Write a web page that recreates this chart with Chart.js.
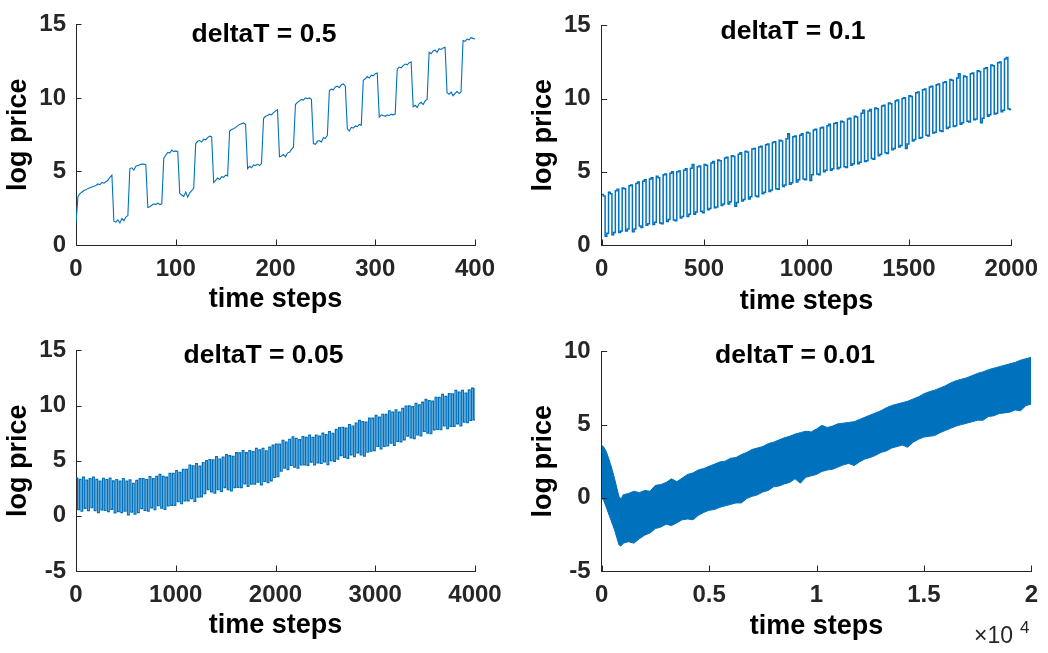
<!DOCTYPE html>
<html><head><meta charset="utf-8">
<script src="https://cdn.jsdelivr.net/npm/chart.js@4.4.1/dist/chart.umd.min.js"></script>
<style>
html,body{margin:0;padding:0;background:#fff;}
#wrap{position:relative;width:1048px;height:653px;overflow:hidden;background:#fff;}
canvas{position:absolute;}
</style></head><body>
<div id="wrap">
<canvas id="c1" width="524" height="326" style="left:0;top:0;width:524px;height:326px"></canvas>
<canvas id="c2" width="524" height="326" style="left:524px;top:0;width:524px;height:326px"></canvas>
<canvas id="c3" width="524" height="327" style="left:0;top:326px;width:524px;height:327px"></canvas>
<canvas id="c4" width="524" height="327" style="left:524px;top:326px;width:524px;height:327px"></canvas>
</div>
<script>
// ---------- data ----------
const titles = ['deltaT = 0.5', 'deltaT = 0.1', 'deltaT = 0.05', 'deltaT = 0.01'];
const xLabel = 'time steps';
const yLabel = 'log price';

// deltaT = 0.5 : sampled every 2 time steps (t = 0..400)
const sampleStep05 = 2;
const price05 = [
1.5,3.3,3.5,3.6,3.7,3.75,3.85,3.9,3.95,4.0,
4.05,4.15,4.1,4.25,4.2,4.3,4.4,4.6,4.75,1.6,
1.55,1.7,1.5,1.8,1.65,1.9,2.0,5.2,5.25,5.1,
5.35,5.4,5.45,5.5,5.5,5.45,2.55,2.6,2.7,2.8,
2.75,2.85,2.75,2.8,5.9,6.1,6.3,6.25,6.45,6.35,
6.4,6.35,3.5,3.4,3.3,3.6,3.25,3.55,3.7,3.85,
6.9,7.05,7.1,7.0,7.2,7.15,7.3,7.4,7.35,4.25,
4.4,4.55,4.45,4.65,4.6,4.75,4.7,7.75,7.85,7.9,
8.0,8.1,8.2,8.25,8.3,8.2,5.2,5.35,5.25,5.45,
5.4,5.5,5.4,5.55,8.6,8.75,8.8,8.9,8.85,9.0,
9.1,9.2,6.0,6.05,6.15,6.0,6.25,6.3,6.5,6.65,
9.55,9.7,9.8,9.9,9.85,10.0,9.95,10.0,9.9,6.9,
6.85,7.05,7.1,7.0,7.3,7.25,7.45,10.5,10.6,10.55,
10.75,10.8,10.7,10.9,10.95,10.8,7.9,7.75,8.0,7.95,
8.1,8.05,8.2,8.15,11.2,11.3,11.45,11.35,11.55,11.5,
11.65,11.7,8.7,8.85,8.8,8.75,8.85,8.8,8.9,8.85,
8.9,11.95,12.1,12.05,12.2,12.3,12.25,12.4,12.45,9.4,
9.5,9.35,9.6,9.7,9.55,9.8,9.9,13.1,13.0,13.2,
13.25,13.1,13.35,13.3,13.4,13.45,10.35,10.25,10.4,10.15,
10.3,10.45,10.3,10.4,13.9,13.85,14.0,13.95,14.1,14.05,
14.0
];

// deltaT = 0.1 : plateau levels, 4 samples per cycle (high, high, low, low), t = 0..2000
const sampleStep01 = 2000 / 240;
const price01 = [
3.45,3.35,0.6,0.8,  3.6,3.5,0.7,0.85,  3.7,3.8,0.85,0.95,  3.9,3.85,0.95,1.1,
4.05,4.1,0.9,1.1,  4.2,4.3,1.3,1.2,  4.35,4.45,1.35,1.45,  4.5,4.6,1.4,1.55,
4.7,4.6,1.5,1.45,  4.8,4.85,1.6,1.75,  4.9,5.0,1.7,1.65,  5.0,5.05,1.85,1.95,
5.1,5.2,1.95,2.1,  5.25,5.5,2.1,2.25,  5.35,5.4,2.3,2.2,  5.5,5.45,2.4,2.5,
5.6,5.7,2.55,2.6,  5.8,5.75,2.7,2.8,  5.95,6.0,2.8,2.95,  6.1,6.05,2.65,2.9,
6.2,6.3,3.0,3.1,  6.4,6.35,3.15,3.3,  6.55,6.6,3.35,3.3,  6.7,6.75,3.5,3.6,
6.85,6.9,3.65,3.75,  7.0,7.05,3.85,3.8,  7.15,7.1,4.0,4.1,  7.25,7.6,4.15,4.25,
7.4,7.45,4.3,4.45,  7.5,7.6,4.5,4.45,  7.7,7.65,4.4,4.8,  7.85,7.9,4.85,4.8,
8.0,8.05,5.0,5.1,  8.15,8.25,5.1,5.2,  8.3,8.35,5.2,5.3,  8.45,8.4,5.35,5.3,
8.6,8.65,5.45,5.55,  8.8,8.75,5.55,5.65,  9.0,9.2,5.7,5.75,  9.15,9.25,5.9,5.85,
9.35,9.3,6.1,6.2,  9.5,9.55,6.3,6.25,  9.7,9.65,6.5,6.6,  9.85,9.9,6.7,6.8,
10.0,10.05,6.6,6.9,  10.2,10.15,7.1,7.2,  10.4,10.45,7.3,7.35,  10.6,10.65,7.5,7.45,
10.8,10.85,7.65,7.7,  10.95,11.0,7.8,7.75,  11.1,11.15,7.95,8.05,  11.3,11.25,8.1,8.15,
11.4,11.7,8.25,8.35,  11.55,11.5,8.45,8.4,  11.7,11.75,8.55,8.6,  11.9,11.85,8.35,8.65,
12.05,12.1,8.8,8.9,  12.3,12.25,8.95,9.0,  12.45,12.5,9.1,9.2,  12.7,12.8,9.3,9.25,
9.3
];

// deltaT = 0.05 : plateau levels, 2 samples per cycle (high, low), t = 0..4000
const sampleStep005 = 4000 / 240;
const price005 = [
3.45,0.56, 3.3,0.42, 3.5,0.69, 3.24,0.48, 3.37,0.75, 3.51,0.47, 3.3,0.3, 3.15,0.55, 3.4,0.5, 3.29,0.38,
3.42,0.6, 3.16,0.27, 3.28,0.38, 3.15,0.3, 3.37,0.42, 3.15,0.09, 3.25,0.33, 2.95,0.16, 3.22,0.3, 3.37,0.65,
3.37,0.5, 3.28,0.42, 3.55,0.72, 3.37,0.57, 3.57,0.92, 3.75,0.7, 3.58,0.58, 3.5,0.9, 3.85,0.95, 3.85,0.95,
4.1,1.3, 3.95,1.1, 4.2,1.35, 4.21,1.37, 4.6,1.57, 4.53,1.32, 4.73,1.69, 4.5,1.72, 4.82,2.01, 5.01,2.37,
5.1,2.17, 5.08,2.07, 5.37,2.37, 5.15,2.22, 5.33,2.57, 5.55,2.37, 5.45,2.27, 5.4,2.57, 5.73,2.59, 5.7,2.57,
5.92,2.91, 5.72,2.67, 5.9,2.87, 5.83,2.87, 6.12,3.07, 5.97,2.82, 6.12,3.12, 5.89,3.02, 6.22,3.18, 6.41,3.48,
6.5,3.55, 6.5,4.05, 6.85,4.34, 6.69,4.2, 6.92,4.57, 7.16,4.41, 7.02,4.32, 6.9,4.62, 7.18,4.62, 7.12,4.57,
7.32,4.88, 7.12,4.62, 7.31,4.8, 7.22,4.75, 7.49,4.9, 7.37,4.65, 7.63,5.0, 7.47,4.95, 7.83,5.14, 8.0,5.47,
8.02,5.31, 7.96,5.22, 8.27,5.53, 8.14,5.37, 8.4,5.72, 8.65,5.52, 8.55,5.42, 8.5,5.77, 8.85,5.87, 8.85,5.92,
9.1,6.29, 8.95,6.07, 9.2,6.3, 9.19,6.35, 9.52,6.6, 9.4,6.4, 9.6,6.75, 9.4,6.7, 9.75,6.9, 9.94,7.24,
9.97,7.07, 9.91,7.01, 10.2,7.35, 10.05,7.25, 10.3,7.65, 10.55,7.5, 10.45,7.45, 10.4,7.8, 10.75,7.84, 10.75,7.82,
11.0,8.16, 10.84,7.92, 11.07,8.12, 11.06,8.12, 11.37,8.35, 11.22,8.15, 11.37,8.5, 11.12,8.45, 11.42,8.65, 11.57,8.7,
11.6
];

// deltaT = 0.01 : upper and lower edge of the dense oscillation band
const steps001 = [0,100,200,300,400,500,600,700,800,900,1000,1250,1500,1750,2000,2250,2500,2750,3000,3250,3500,3750,4000,4250,4500,4750,5000,5250,5500,5750,6000,6250,6500,6750,7000,7250,7500,7750,8000,8250,8500,8750,9000,9250,9500,9750,10000,10250,10500,10750,11000,11250,11500,11750,12000,12250,12500,12750,13000,13250,13500,13750,14000,14250,14500,14750,15000,15250,15500,15750,16000,16250,16500,16750,17000,17250,17500,17750,18000,18250,18500,18750,19000,19250,19500,19750,20000];
const upper001 = [3.6,3.45,3.2,2.8,2.35,1.85,1.3,0.7,0.1,-0.1,0.2,0.3,0.45,0.35,0.5,0.45,0.85,0.9,1.05,1.3,1.1,1.35,1.6,1.7,1.9,2.0,2.15,2.3,2.45,2.5,2.7,2.75,2.95,3.1,3.3,3.4,3.5,3.7,3.8,3.95,4.1,4.2,4.35,4.45,4.55,4.5,4.7,4.95,4.8,4.9,5.05,5.1,5.15,5.2,5.35,5.5,5.65,5.8,5.95,6.15,6.3,6.4,6.5,6.6,6.75,6.9,7.1,7.25,7.35,7.5,7.65,7.85,8.0,8.1,8.2,8.35,8.5,8.6,8.75,8.85,8.95,9.05,9.15,9.25,9.4,9.5,9.6];
const lower001 = [0.0,-0.2,-0.6,-1.0,-1.4,-1.8,-2.2,-2.7,-3.2,-3.3,-3.1,-3.0,-3.1,-2.8,-2.55,-2.4,-2.1,-2.0,-1.8,-1.9,-1.7,-1.5,-1.45,-1.5,-1.2,-1.0,-0.85,-0.8,-0.65,-0.55,-0.45,-0.35,-0.35,-0.05,0.1,0.2,0.4,0.5,0.75,0.8,0.95,1.05,1.3,1.0,1.4,1.5,1.6,1.8,1.9,1.95,2.1,2.25,2.35,2.2,2.45,2.65,2.75,2.9,3.1,3.2,3.4,3.5,3.6,3.45,3.8,4.0,4.15,4.2,4.25,4.45,4.6,4.75,4.9,5.0,5.1,5.2,5.3,5.3,5.55,5.6,5.75,5.8,5.85,6.0,5.95,6.3,6.4];

// tick values
const xTicks05 = [0,100,200,300,400];
const xTicks01 = [0,500,1000,1500,2000];
const xTicks005 = [0,1000,2000,3000,4000];
const xTicks001 = [0,5000,10000,15000,20000];
const yTicksTop = [0,5,10,15];
const yTicks005 = [-5,0,5,10,15];
const yTicks001 = [-5,0,5,10];

// ---------- drawing ----------
const FONT = "'Liberation Sans', Arial, Helvetica, sans-serif";
const AXIS = '#262626';
const BLUE = '#0072BD';

const matlabPlugin = {
  id: 'matlab',
  afterDraw(chart, args, o) {
    const ctx = chart.ctx;
    const {left, bottom} = chart.chartArea;
    const xs = chart.scales.x, ys = chart.scales.y;
    ctx.save();
    ctx.strokeStyle = AXIS;
    ctx.lineWidth = 1;
    ctx.beginPath();
    xs.ticks.forEach(t => {
      const px = Math.round(xs.getPixelForValue(t.value)) + 0.5;
      ctx.moveTo(px, bottom); ctx.lineTo(px, bottom - 5.5);
    });
    ys.ticks.forEach(t => {
      const py = Math.round(ys.getPixelForValue(t.value)) + 0.5;
      ctx.moveTo(left, py); ctx.lineTo(left + 5.5, py);
    });
    ctx.stroke();
    ctx.fillStyle = '#000';
    ctx.font = 'bold 26.5px ' + FONT;
    ctx.textAlign = 'center';
    ctx.textBaseline = 'alphabetic';
    ctx.fillText(o.title, o.titleX, o.titleY);
    if (o.exponent) {
      ctx.fillStyle = AXIS;
      ctx.textAlign = 'left';
      ctx.font = '23px ' + FONT;
      ctx.fillText('\u00d710', o.expX, o.expY);
      ctx.font = '17px ' + FONT;
      ctx.fillText('4', o.expX + 46, o.expY - 10);
    }
    ctx.restore();
  }
};

function makeChart(id, cfg) {
  const tickFont = {family: FONT, weight: 'bold', size: 24, lineHeight: 1.2};
  const labelFont = {family: FONT, weight: 'bold', size: 27, lineHeight: 1.2};
  return new Chart(document.getElementById(id), {
    type: 'line',
    data: {datasets: cfg.datasets},
    options: {
      responsive: false,
      animation: false,
      events: [],
      layout: {padding: {left: 0, top: 10, right: cfg.padRight, bottom: 0}},
      plugins: {
        legend: {display: false},
        tooltip: {enabled: false},
        matlab: cfg.matlab
      },
      elements: {point: {radius: 0}, line: {tension: 0}},
      scales: {
        x: {
          type: 'linear', min: cfg.xMin, max: cfg.xMax,
          afterFit: s => { s.height = cfg.xAxisH; },
          afterBuildTicks: s => { s.ticks = cfg.xTicks.map(v => ({value: v})); },
          grid: {display: false, drawTicks: false},
          border: {display: true, color: AXIS, width: 1},
          ticks: {font: tickFont, color: AXIS, padding: 10, maxRotation: 0, autoSkip: false,
                  callback: cfg.xFmt || (v => String(v))},
          title: {display: true, text: xLabel, font: labelFont, color: '#000',
                  padding: {top: 0, bottom: cfg.xTitlePad}}
        },
        y: {
          type: 'linear', min: cfg.yMin, max: cfg.yMax,
          afterFit: s => { s.width = cfg.yAxisW; },
          afterBuildTicks: s => { s.ticks = cfg.yTicks.map(v => ({value: v})); },
          grid: {display: false, drawTicks: false},
          border: {display: true, color: AXIS, width: 1},
          ticks: {font: tickFont, color: AXIS, padding: cfg.yTickPad, autoSkip: false,
                  callback: v => String(v)},
          title: {display: true, text: yLabel, font: labelFont, color: '#000',
                  padding: {top: cfg.yTitlePad, bottom: 0}}
        }
      }
    },
    plugins: [matlabPlugin]
  });
}

function lineSet(points, opts) {
  return Object.assign({
    data: points, borderColor: BLUE, borderWidth: 1, pointRadius: 0,
    fill: false, tension: 0, borderJoinStyle: 'miter'
  }, opts || {});
}

// chart 1
makeChart('c1', {
  datasets: [lineSet(price05.map((v, i) => ({x: i * sampleStep05, y: v})), {borderWidth: 1.1})],
  xMin: 0, xMax: 400, yMin: 0, yMax: 15, xTicks: xTicks05, yTicks: yTicksTop,
  padRight: 49, yAxisW: 76, xAxisH: 81, yTickPad: 10, yTitlePad: 2, xTitlePad: 10,
  matlab: {title: titles[0], titleX: 264, titleY: 41.5}
});
// chart 2
makeChart('c2', {
  datasets: [lineSet(price01.map((v, i) => ({x: i * sampleStep01, y: v})), {stepped: true, borderWidth: 1.5})],
  xMin: 0, xMax: 2000, yMin: 0, yMax: 15, xTicks: xTicks01, yTicks: yTicksTop,
  padRight: 31.3, yAxisW: 77.7, xAxisH: 81, yTickPad: 11, yTitlePad: 3, xTitlePad: 8,
  matlab: {title: titles[1], titleX: 269, titleY: 39.3}
});
// chart 3
makeChart('c3', {
  datasets: [lineSet(price005.map((v, i) => ({x: i * sampleStep005, y: v})), {stepped: true, borderWidth: 1.3})],
  xMin: 0, xMax: 4000, yMin: -5, yMax: 15, xTicks: xTicks005, yTicks: yTicks005,
  padRight: 49, yAxisW: 76, xAxisH: 82, yTickPad: 10, yTitlePad: 2, xTitlePad: 11,
  matlab: {title: titles[2], titleX: 263.5, titleY: 37.3}
});
// chart 4
makeChart('c4', {
  datasets: [
    lineSet(steps001.map((t, i) => ({x: t, y: upper001[i]}))),
    lineSet(steps001.map((t, i) => ({x: t, y: lower001[i]})), {fill: '-1', backgroundColor: BLUE})
  ],
  xMin: 0, xMax: 20000, yMin: -5, yMax: 10, xTicks: xTicks001, yTicks: yTicks001,
  padRight: 15, yAxisW: 77.7, xAxisH: 82, yTickPad: 11, yTitlePad: 3, xTitlePad: 10,
  xFmt: v => String(v / 10000),
  matlab: {title: titles[3], titleX: 271, titleY: 37.3, exponent: true, expX: 450, expY: 317}
});
</script>
</body></html>
